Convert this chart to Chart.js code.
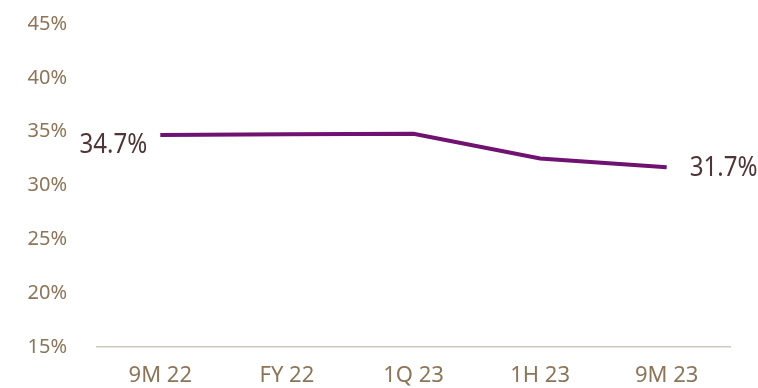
<!DOCTYPE html>
<html>
<head>
<meta charset="utf-8">
<script src="https://cdn.jsdelivr.net/npm/chart.js@4/dist/chart.umd.min.js"></script>
<style>
  html, body { margin: 0; padding: 0; background: #fff; }
  #wrap { width: 758px; height: 388px; }
</style>
</head>
<body>
<div id="wrap"><canvas id="ratioChart"></canvas></div>
<script>
const periods = ['9M 22', 'FY 22', '1Q 23', '1H 23', '9M 23'];
const ratio = [34.7, 34.75, 34.8, 32.5, 31.7];
const yTicks = [15, 20, 25, 30, 35, 40, 45];

const tickColor = '#8c7559';
const labelColor = '#4e3636';

// writes the first and last value next to the line ends
const endLabels = {
    id: 'endLabels',
    afterDatasetsDraw(chart) {
        const ctx = chart.ctx;
        const pts = chart.getDatasetMeta(0).data;
        const last = pts.length - 1;
        const items = [
            { i: 0, dx: -13, dy: 10, align: 'right' },
            { i: last, dx: 23, dy: 1, align: 'left' }
        ];
        ctx.save();
        ctx.font = '28px "Noto Sans"';
        ctx.fillStyle = labelColor;
        ctx.textBaseline = 'middle';
        items.forEach(it => {
            const p = pts[it.i];
            const txt = ratio[it.i].toFixed(1) + '%';
            ctx.save();
            ctx.translate(p.x + it.dx, p.y + it.dy);
            ctx.scale(0.86, 1);
            ctx.textAlign = it.align;
            ctx.fillText(txt, 0, 0);
            ctx.restore();
        });
        ctx.restore();
    }
};

new Chart(document.getElementById('ratioChart'), {
    type: 'line',
    data: {
        labels: periods,
        datasets: [{
            data: ratio,
            borderColor: '#6f1271',
            borderWidth: 4,
            pointRadius: 0,
            tension: 0,
            fill: false
        }]
    },
    options: {
        responsive: true,
        maintainAspectRatio: false,
        animation: false,
        layout: { padding: { top: 24, right: 28, left: 0, bottom: 0 } },
        plugins: {
            legend: { display: false },
            tooltip: { enabled: false }
        },
        scales: {
            x: {
                offset: true,
                grid: { display: false, drawTicks: false },
                border: { display: true, color: '#d0c7bc', width: 1.5 },
                ticks: {
                    color: tickColor,
                    font: { family: '"Noto Sans"', size: 22 },
                    padding: 16,
                    maxRotation: 0
                },
                afterFit(s) { s.height = 41; }
            },
            y: {
                min: yTicks[0],
                max: yTicks[yTicks.length - 1],
                grid: { display: false, drawTicks: false },
                border: { display: false },
                afterBuildTicks(s) { s.ticks = yTicks.map(v => ({ value: v })); },
                ticks: {
                    color: tickColor,
                    font: { family: '"Noto Sans"', size: 20 },
                    padding: 30,
                    callback: v => v + '%'
                },
                // the label gap would otherwise be added above and below the axis too
                afterFit(s) {
                    s.width = 97;
                    s.paddingTop = 0;
                    s.paddingBottom = 0;
                }
            }
        }
    },
    plugins: [endLabels]
});
</script>
</body>
</html>
